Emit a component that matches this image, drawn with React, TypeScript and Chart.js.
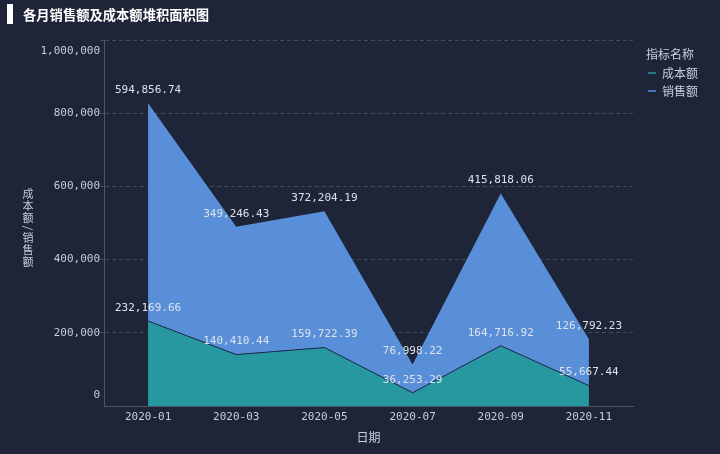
import React, { useEffect, useRef } from 'react';
import { Chart, registerables } from 'chart.js';

Chart.register(...registerables);

const months = ['2020-01', '2020-03', '2020-05', '2020-07', '2020-09', '2020-11'];
const costValues = [232169.66, 140410.44, 159722.39, 36253.29, 164716.92, 55667.44];
const salesValues = [594856.74, 349246.43, 372204.19, 76998.22, 415818.06, 126792.23];
const yTicks = [0, 200000, 400000, 600000, 800000, 1000000];
const seriesNames = ['成本额', '销售额'];
const seriesColors = ['#27989f', '#588fd8'];
const chartTitle = '各月销售额及成本额堆积面积图';
const yTitle = '成本额/销售额';
const xTitle = '日期';
const legendTitle = '指标名称';

const BG = '#1f2538';
const TEXT = '#c8cdd8';
const LABEL = '#dde2ea';
const AXIS = '#4d5468';
const MONO = '"DejaVu Sans Mono", monospace';
const CJK = '"Noto Sans CJK SC", "Noto Sans", sans-serif';

const fmt = (v: number) =>
  v.toLocaleString('en-US', { minimumFractionDigits: 2, maximumFractionDigits: 2 });
const fmtInt = (v: number) => v.toLocaleString('en-US');

const decorPlugin = {
  id: 'decor',
  afterDatasetsDraw(chart: any) {
    const ctx = chart.ctx;
    ctx.save();
    ctx.font = `11px ${MONO}`;
    ctx.fillStyle = LABEL;
    ctx.textAlign = 'center';
    ctx.textBaseline = 'middle';
    chart.data.datasets.forEach((ds: any, di: number) => {
      const meta = chart.getDatasetMeta(di);
      meta.data.forEach((pt: any, i: number) => {
        ctx.fillText(fmt(ds.data[i]), pt.x, pt.y - 13);
      });
    });
    ctx.restore();
  },
  afterDraw(chart: any) {
    const ctx = chart.ctx;
    const ys = chart.scales.y;
    ctx.save();
    // title bar + title
    ctx.fillStyle = '#ffffff';
    ctx.fillRect(7, 4, 6, 20);
    ctx.font = `bold 13.3px ${CJK}`;
    ctx.textAlign = 'left';
    ctx.textBaseline = 'middle';
    ctx.fillText(chartTitle, 23, 15);

    // y tick labels (flush at ends)
    ctx.font = `11px ${MONO}`;
    ctx.fillStyle = TEXT;
    ctx.textAlign = 'right';
    ctx.textBaseline = 'middle';
    yTicks.forEach((v, i) => {
      let y = ys.getPixelForValue(v);
      if (i === 0) y -= 11;
      if (i === yTicks.length - 1) y += 11;
      ctx.fillText(fmtInt(v), ys.right - 4, y);
    });

    // y title, vertical (CJK upright, latin rotated)
    ctx.font = `11px ${CJK}`;
    ctx.textAlign = 'center';
    ctx.textBaseline = 'middle';
    const chars = Array.from(yTitle);
    const cx = 28;
    let y = 188;
    chars.forEach((c) => {
      if (c === '/') {
        const h = 8;
        ctx.save();
        ctx.translate(cx, y + h / 2);
        ctx.rotate(Math.PI / 2);
        ctx.fillText(c, 0, 0);
        ctx.restore();
        y += h;
      } else {
        const h = 12;
        ctx.fillText(c, cx, y + h / 2);
        y += h;
      }
    });

    // legend
    ctx.textAlign = 'left';
    ctx.font = `12px ${CJK}`;
    ctx.fillStyle = TEXT;
    ctx.fillText(legendTitle, 646, 54);
    seriesNames.forEach((name, i) => {
      const ly = 73 + i * 18;
      ctx.strokeStyle = seriesColors[i];
      ctx.lineWidth = 1.5;
      ctx.beginPath();
      ctx.moveTo(648, ly);
      ctx.lineTo(656, ly);
      ctx.stroke();
      ctx.fillStyle = TEXT;
      ctx.fillText(name, 662, ly);
    });
    ctx.restore();
  },
};

export default function App() {
  const ref = useRef<HTMLCanvasElement | null>(null);
  useEffect(() => {
    if (!ref.current) return;
    const chart = new Chart(ref.current, {
      type: 'line',
      data: {
        labels: months,
        datasets: [
          {
            label: seriesNames[0],
            data: costValues,
            backgroundColor: seriesColors[0],
            borderColor: '#1b2a4a',
            borderWidth: 1,
            fill: 'origin',
            pointRadius: 0,
            tension: 0,
          },
          {
            label: seriesNames[1],
            data: salesValues,
            backgroundColor: seriesColors[1],
            borderColor: seriesColors[1],
            borderWidth: 0,
            fill: '-1',
            pointRadius: 0,
            tension: 0,
          },
        ],
      },
      options: {
        responsive: true,
        maintainAspectRatio: false,
        animation: false,
        layout: { padding: { top: 40, right: 87, left: 0, bottom: 0 } },
        plugins: {
          legend: { display: false },
          tooltip: { enabled: false },
          title: { display: false },
        },
        scales: {
          x: {
            type: 'category',
            offset: true,
            grid: { display: false, drawTicks: false },
            border: { display: true, color: AXIS, width: 1 },
            ticks: {
              color: TEXT,
              font: { family: MONO, size: 11 },
              padding: 5,
              maxRotation: 0,
              autoSkip: false,
            },
            title: {
              display: true,
              text: xTitle,
              color: TEXT,
              font: { family: CJK, size: 12 },
              padding: { top: 0, bottom: 9 },
            },
            afterFit: (s: any) => {
              s.height = 48;
            },
          },
          y: {
            stacked: true,
            min: 0,
            max: 1000000,
            ticks: { display: false, stepSize: 200000 },
            grid: {
              color: (c: any) => (c.tick && c.tick.value === 0 ? 'rgba(0,0,0,0)' : 'rgba(110,118,140,0.45)'),
              lineWidth: 1,
              drawTicks: true,
              tickLength: 4,
            },
            border: { display: true, color: AXIS, width: 1, dash: [4, 3] },
            afterFit: (s: any) => {
              s.width = 104;
            },
          },
        },
      },
      plugins: [decorPlugin],
    });
    return () => chart.destroy();
  }, []);
  return (
    <div style={{ position: 'absolute', left: 0, top: 0, width: 720, height: 454, background: BG }}>
      <canvas ref={ref} />
    </div>
  );
}
